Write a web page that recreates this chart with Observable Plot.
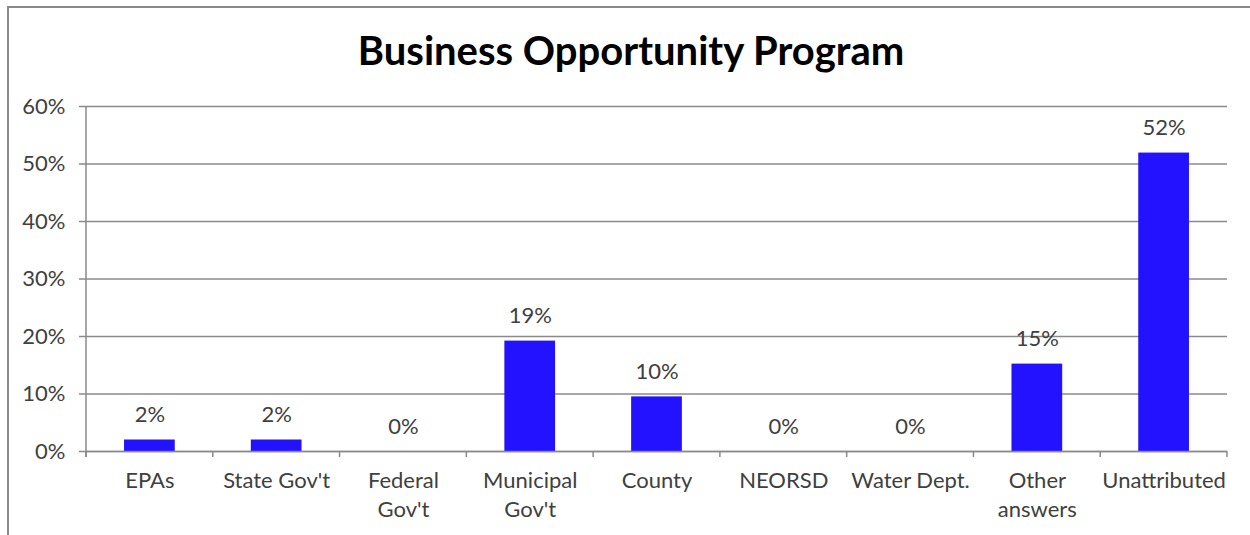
<!DOCTYPE html>
<html>
<head>
<meta charset="utf-8">
<script src="https://cdn.jsdelivr.net/npm/d3@7"></script>
<script src="https://cdn.jsdelivr.net/npm/@observablehq/plot@0.6"></script>
<style>
  html, body { margin: 0; padding: 0; background: #fff; overflow: hidden; }
  #frame {
    position: absolute; left: 7px; top: 6px; width: 1300px; height: 600px;
    border: 2px solid #8a8a8a; box-sizing: border-box;
  }
  #title {
    position: absolute; left: 0; top: 0; width: 1250px; height: 90px;
    font-family: Lato, "Liberation Sans", sans-serif; font-weight: bold;
    font-size: 40px; color: #000; text-align: center; line-height: 100px;
    padding-left: 12px; box-sizing: border-box; white-space: nowrap;
  }
  #chart { position: absolute; left: 0; top: 90px; }
</style>
</head>
<body>
<div id="frame"></div>
<div id="title">Business Opportunity Program</div>
<div id="chart"></div>
<script>
const categories = ["EPAs", "State Gov't", "Federal Gov't", "Municipal Gov't", "County", "NEORSD", "Water Dept.", "Other answers", "Unattributed"];
const xLabels = ["EPAs", "State Gov't", "Federal\nGov't", "Municipal\nGov't", "County", "NEORSD", "Water Dept.", "Other\nanswers", "Unattributed"];
const values = [2.0, 2.0, 0, 19.2, 9.5, 0, 0, 15.2, 51.9];
const valueLabels = ["2%", "2%", "0%", "19%", "10%", "0%", "0%", "15%", "52%"];
const yTicks = [0, 10, 20, 30, 40, 50, 60];

const data = categories.map((c, i) => ({category: c, value: values[i], label: valueLabels[i]}));
const textColor = "#404040";
const lineColor = "#8a8a8a";

// custom mark: y-axis line and category boundary ticks, positioned via scales
function axisFrame(index, scales, values, dim) {
  const x = scales.x, y = scales.y;
  const g = d3.create("svg:g");
  const x0 = dim.marginLeft, x1 = dim.width - dim.marginRight;
  const yb = y(0), yt = y(60);
  g.append("line").attr("x1", x0).attr("x2", x0).attr("y1", yt).attr("y2", yb + 6)
    .attr("stroke", lineColor).attr("stroke-width", 1.5);
  const step = (x1 - x0) / categories.length;
  for (let i = 0; i <= categories.length; i++) {
    const xx = x0 + i * step;
    g.append("line").attr("x1", xx).attr("x2", xx).attr("y1", yb).attr("y2", yb + 6)
      .attr("stroke", lineColor).attr("stroke-width", 1.5);
  }
  return g.node();
}

const plot = Plot.plot({
  width: 1250,
  height: 445,
  marginTop: 16,
  marginBottom: 84,
  marginLeft: 86,
  marginRight: 23,
  style: {fontFamily: "Lato, 'Liberation Sans', sans-serif", fontSize: "22px", color: textColor, background: "transparent"},
  x: {domain: categories, paddingInner: 0.6, paddingOuter: 0.3, round: false, label: null},
  y: {domain: [0, 60], label: null},
  marks: [
    Plot.gridY(yTicks, {stroke: lineColor, strokeOpacity: 1, strokeWidth: 1.5}),
    Plot.barY(data, {x: "category", y: "value", fill: "#2212ff"}),
    Plot.text(data, {x: "category", y: "value", text: "label", dy: -25, fontSize: 22, fill: textColor}),
    Plot.axisY({ticks: yTicks, tickFormat: d => d + "%", tickSize: 7, tickPadding: 14, fontSize: 22, stroke: lineColor, strokeWidth: 1.5, fill: textColor, label: null}),
    Plot.axisX({tickSize: 0, tickPadding: 16, tickFormat: (d) => xLabels[categories.indexOf(d)], fontSize: 22, lineHeight: 1.32, fill: textColor, label: null, textAnchor: "middle"}),
    Plot.ruleY([0], {stroke: lineColor, strokeWidth: 1.5}),
    axisFrame
  ]
});
document.getElementById("chart").appendChild(plot);
</script>
</body>
</html>
